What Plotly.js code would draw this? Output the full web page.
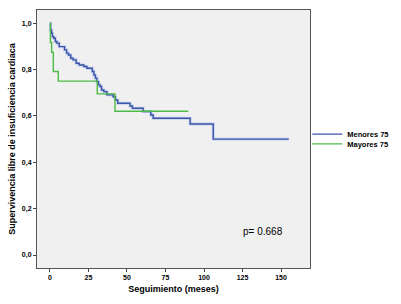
<!DOCTYPE html>
<html><head><meta charset="utf-8">
<script src="https://cdn.plot.ly/plotly-3.0.1.min.js"></script>
<style>html,body{margin:0;padding:0;background:#fff}#c{width:401px;height:304px}</style>
</head><body><div id="c"></div>
<script>
// Kaplan-Meier step data
var menoresT = [0, 0.4, 1, 1.6, 2.5, 3.5, 4.5, 6, 9.5, 10.8, 12, 13.5, 15, 17, 19, 22, 24, 27.5, 28.5, 29.5, 30.5, 31.5, 32.5, 33.5, 35, 37, 41, 42.5, 44, 52, 53.5, 60.5, 65.5, 67, 91, 106, 155];
var menoresS = [1.0, 0.971, 0.957, 0.942, 0.935, 0.921, 0.914, 0.899, 0.885, 0.871, 0.863, 0.849, 0.842, 0.827, 0.82, 0.813, 0.806, 0.792, 0.777, 0.763, 0.748, 0.734, 0.727, 0.712, 0.705, 0.691, 0.683, 0.669, 0.655, 0.643, 0.633, 0.619, 0.604, 0.590, 0.565, 0.500, 0.500];
var mayoresT = [0, 0.3, 1.1, 2.2, 5.4, 30.7, 42.2, 89.8];
var mayoresS = [1.0, 0.917, 0.875, 0.792, 0.75, 0.695, 0.62, 0.62];
var seriesNames = ["Menores 75", "Mayores 75"];
var yTickVals = [0, 0.2, 0.4, 0.6, 0.8, 1.0];
var yTickText = ["0,0", "0,2", "0,4", "0,6", "0,8", "1,0"];
var xTickVals = [0, 25, 50, 75, 100, 125, 150];
var pText = "p= 0.668";

var F = "Liberation Sans, Arial, sans-serif";
var traces = [
  {x: menoresT, y: menoresS, mode: "lines", line: {shape: "hv", color: "#c3cfee", width: 3}, showlegend: false, hoverinfo: "skip"},
  {x: menoresT, y: menoresS, mode: "lines", name: seriesNames[0], legend: "legend", line: {shape: "hv", color: "#3d56a6", width: 1.4}},
  {x: mayoresT, y: mayoresS, mode: "lines", name: seriesNames[1], legend: "legend2", line: {shape: "hv", color: "#4cbb47", width: 1.4}}
];
var legFont = {family: F, size: 7.5, color: "#000", weight: "bold"};
var layout = {
  width: 401, height: 304,
  margin: {l: 37, r: 91, t: 10, b: 36, autoexpand: false},
  paper_bgcolor: "#ffffff", plot_bgcolor: "#f0f0f0",
  showlegend: true,
  legend: {x: 0.99, y: 0.519, xanchor: "left", yanchor: "middle", font: legFont, bgcolor: "rgba(0,0,0,0)", itemwidth: 30},
  legend2: {x: 0.99, y: 0.481, xanchor: "left", yanchor: "middle", font: legFont, bgcolor: "rgba(0,0,0,0)", itemwidth: 30},
  xaxis: {range: [-8.4, 168.8], tickvals: xTickVals, ticks: "outside", ticklen: 3, tickcolor: "#444",
    tickfont: {family: F, size: 7, color: "#000", weight: "bold"}, showgrid: false, zeroline: false,
    showline: true, linecolor: "#555", linewidth: 1, mirror: true,
    title: {text: "Seguimiento (meses)", font: {family: F, size: 9, color: "#000", weight: "bold"}, standoff: 5}},
  yaxis: {range: [-0.056, 1.057], tickvals: yTickVals, ticktext: yTickText, ticks: "outside", ticklen: 3, tickcolor: "#444",
    tickfont: {family: F, size: 7, color: "#000", weight: "bold"}, showgrid: false, zeroline: false,
    showline: true, linecolor: "#555", linewidth: 1, mirror: true,
    title: {text: "Supervivencia libre de insuficiencia cardiaca", font: {family: F, size: 9, color: "#000", weight: "bold"}, standoff: 4}},
  annotations: [{x: 138, y: 0.1, xref: "x", yref: "y", text: pText, showarrow: false, font: {family: F, size: 10, color: "#000"}}]
};
Plotly.newPlot("c", traces, layout, {staticPlot: true, displayModeBar: false});
</script></body></html>
